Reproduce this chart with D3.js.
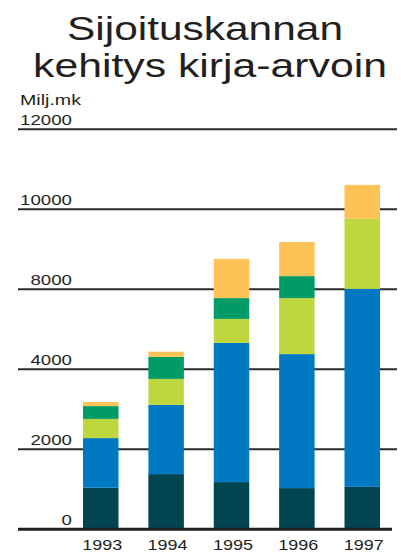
<!DOCTYPE html>
<html><head><meta charset="utf-8">
<script src="https://cdn.jsdelivr.net/npm/d3@7"></script>
<style>
html,body{margin:0;padding:0;background:#fff;}
svg{display:block;}
</style>
</head><body>
<svg id="c" width="401" height="554"></svg>
<script>
const years = ["1993","1994","1995","1996","1997"];
const seriesNames = ["s1","s2","s3","s4","s5"];
const darkVals   = [1040, 1380, 1180, 1030, 1060];
const blueVals   = [1240, 1730, 3480, 3350, 4950];
const limeVals   = [480, 650, 600, 1400, 1750];
const greenVals  = [320, 550, 520, 550, 0];
const yellowVals = [100, 130, 980, 850, 850];
const tickValues = [0, 2000, 4000, 6000, 8000, 10000];
const tickLabels = ["0", "2000", "4000", "8000", "10000", "12000"];
const titleLines = ["Sijoituskannan", "kehitys kirja-arvoin"];
const unitLabel = "Milj.mk";

const colors = ["#02444f", "#0079c2", "#bfd73f", "#009b66", "#fec357"];
const seriesVals = [darkVals, blueVals, limeVals, greenVals, yellowVals];

const table = years.map((y, i) => {
  const o = {year: y};
  seriesNames.forEach((s, k) => o[s] = seriesVals[k][i]);
  return o;
});

const svg = d3.select("#c");
const ink = "#231f20";

const x = d3.scaleBand().domain(years).range([83, 380]).paddingInner(0.457).paddingOuter(0);
const y = d3.scaleLinear().domain([0, 10000]).range([529.3, 129.3]);

// title
const tFont = "'Liberation Sans', Arial, sans-serif";
svg.append("text").attr("x", 67).attr("y", 39.5)
  .attr("font-family", tFont).attr("font-size", 33).attr("fill", ink)
  .attr("textLength", 276).attr("lengthAdjust", "spacingAndGlyphs")
  .text(titleLines[0]);
svg.append("text").attr("x", 33).attr("y", 77)
  .attr("font-family", tFont).attr("font-size", 33).attr("fill", ink)
  .attr("textLength", 354).attr("lengthAdjust", "spacingAndGlyphs")
  .text(titleLines[1]);

svg.append("text").attr("x", 20).attr("y", 105)
  .attr("font-family", tFont).attr("font-size", 14.5).attr("fill", ink)
  .attr("textLength", 61).attr("lengthAdjust", "spacingAndGlyphs")
  .text(unitLabel);

// gridlines (not baseline)
const grid = svg.append("g");
grid.selectAll("line").data(tickValues.filter(v => v > 0)).join("line")
  .attr("x1", 18).attr("x2", 397)
  .attr("y1", d => y(d)).attr("y2", d => y(d))
  .attr("stroke", "#2b2b2b").attr("stroke-width", 2);

// tick labels
svg.append("g").selectAll("text").data(tickValues).join("text")
  .attr("x", 72).attr("y", d => y(d) - 4)
  .attr("text-anchor", "end")
  .attr("font-family", tFont).attr("font-size", 15).attr("fill", ink)
  .attr("textLength", (d, i) => tickLabels[i].length * 10.4)
  .attr("lengthAdjust", "spacingAndGlyphs")
  .text((d, i) => tickLabels[i]);

// stacked bars
const stack = d3.stack().keys(seriesNames)(table);
svg.append("g").selectAll("g").data(stack).join("g")
  .attr("fill", (d, i) => colors[i])
  .selectAll("rect").data(d => d).join("rect")
  .attr("x", d => x(d.data.year))
  .attr("width", x.bandwidth())
  .attr("y", d => y(d[1]))
  .attr("height", d => Math.max(0, y(d[0]) - y(d[1])));

// baseline
svg.append("line").attr("x1", 18).attr("x2", 392)
  .attr("y1", y(0)).attr("y2", y(0))
  .attr("stroke", "#231f20").attr("stroke-width", 3);

// year labels
svg.append("g").selectAll("text").data(years).join("text")
  .attr("x", d => x(d) + x.bandwidth() / 2 + 1.5)
  .attr("y", 550)
  .attr("text-anchor", "middle")
  .attr("font-family", tFont).attr("font-size", 15).attr("fill", ink)
  .attr("textLength", 40).attr("lengthAdjust", "spacingAndGlyphs")
  .text(d => d);
</script>
</body></html>
